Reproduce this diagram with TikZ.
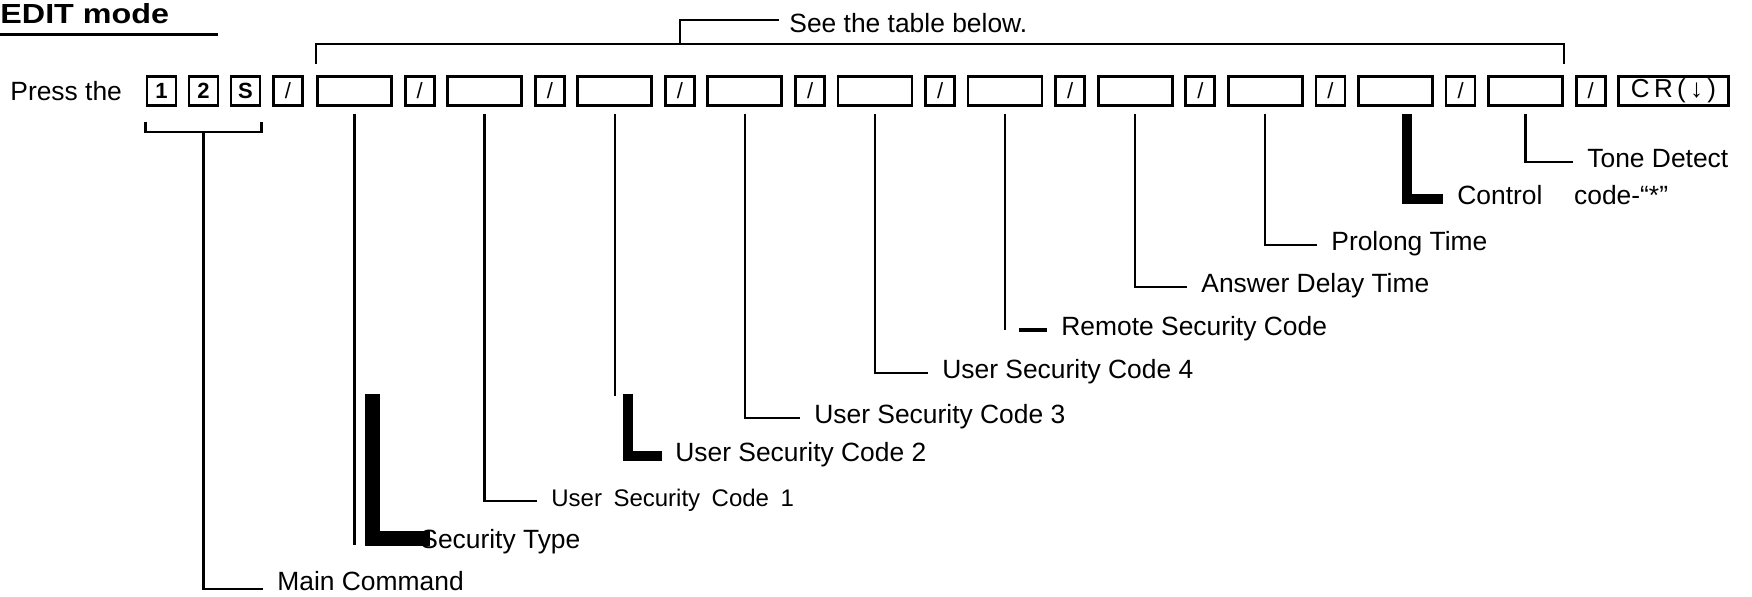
\documentclass[tikz,border=0pt]{standalone}
\usepackage{graphicx}
\usepackage{fontspec}
\setmainfont{Liberation Sans}
\newcommand{\lblfont}{\fontsize{13.2}{15}\selectfont}
\newcommand{\keyfont}{\fontsize{11}{13}\selectfont}
\begin{document}
\begin{tikzpicture}[line join=miter,line cap=butt,x=.5pt,y=-.5pt,font=\lblfont]
	\tikzset{key/.style={draw,line width=1.4pt,minimum width=14.5pt,minimum height=14.5pt,inner sep=0pt,font=\keyfont},
		field/.style={key,minimum width=37pt},
		lbl/.style={anchor=west,inner xsep=7pt,inner ysep=0pt,text height=.72em,text depth=.2em},
		con/.style={line width=1.2pt},
		fat/.style={line width=#1}
	}
	\useasboundingbox (0,0) rectangle (1752,596);
	\node[anchor=west,inner sep=0pt,font=\fontsize{13.8}{16}\selectfont\bfseries] (edit) at (0,14) {\scalebox{1.17}[1]{EDIT mode}};
	\draw[line width=1.5pt] (0,34)--(218,34);
	\node[anchor=west,inner sep=0pt] (press) at (10,91) {Press the};
	\node[key,font=\keyfont\bfseries] (k1) at (161.5,91) {1};
	\node[key,font=\keyfont\bfseries] (k2) at (203.5,91) {2};
	\node[key,font=\keyfont\bfseries] (kS) at (245.5,91) {S};
	\node[key] (s0) at (288,91) {/};
	\foreach \i in {1,...,10}{
		\node[field] (b\i) at ({354.5+130.1*(\i-1)},91) {};
		\node[key] (s\i) at ({419.75+130.1*(\i-1)},91) {/};
		\coordinate (t\i) at ([yshift=-3.5pt]b\i.south);
	}
	\node[key,minimum width=55pt,font=\fontsize{13}{15}\selectfont] (cr) at (1673.5,91) {C\,R\,(\,↓\,)};
	% brackets
	\draw[line width=1.3pt] ([yshift=5.5pt]b1.north west) -- ++(0,-20) -| ([yshift=5.5pt]b10.north east);
	\coordinate (brk) at (680,44);
	\node[lbl,inner xsep=5pt] (stb) at (779,27) {See the table below.};
	\draw[con] (brk) |- ([yshift=3.5pt]stb.west);
	\draw[con] ([yshift=-7.5pt]k1.south west) -- ++(0,10) -| ([yshift=-7.5pt]kS.south east);
	% labels
	\node[lbl] (mc) at (263,585) {Main Command};
	\node[lbl] (st) at (406,543) {Security Type};
	\node[lbl,font=\fontsize{12}{14}\selectfont] (uc1) at (537,501) {User\hspace{.2em} Security\hspace{.2em} Code\hspace{.2em} 1};
	\node[lbl,inner xsep=6.5pt] (uc2) at (662,456) {User Security Code 2};
	\node[lbl] (uc3) at (800,418) {User Security Code 3};
	\node[lbl] (uc4) at (928,373) {User Security Code 4};
	\node[lbl] (rsc) at (1047,330) {Remote Security Code};
	\node[lbl] (adt) at (1187,287) {Answer Delay Time};
	\node[lbl] (plt) at (1317,245) {Prolong Time};
	\node[lbl] (ctl) at (1443,199) {Control\hspace{1.2em}code-“*”};
	\node[lbl] (tdc) at (1573,162) {Tone Detect};
	% connectors
	\draw[con] ([yshift=-12.5pt]k2.south) |- ([yshift=-2pt]mc.west);
	\draw[con] (t1) -- ++(0,431);
	\draw[fat=7.5pt] ([shift={(9pt,-140pt)}]t1) |- ([shift={(12pt,2.5pt)}]st.west);
	\draw[con] (t2) |- (uc1.west);
	\draw[con] (t3) -- ++(0,282);
	\draw[fat=5pt] ([shift={(6.5pt,-140pt)}]t3) |- (uc2.west);
	\draw[con] (t4) |- (uc3.west);
	\draw[con] (t5) |- (uc4.west);
	\draw[con] (t6) -- (t6 |- rsc.west);
	\draw[fat=2pt] ([xshift=-14pt]rsc.west) -- (rsc.west);
	\draw[con] (t7) |- (adt.west);
	\draw[con] (t8) |- (plt.west);
	\draw[fat=5pt] ([xshift=6pt]t9) |- (ctl.west);
	\draw[con] (t10) |- (tdc.west);
\end{tikzpicture}
\end{document}
